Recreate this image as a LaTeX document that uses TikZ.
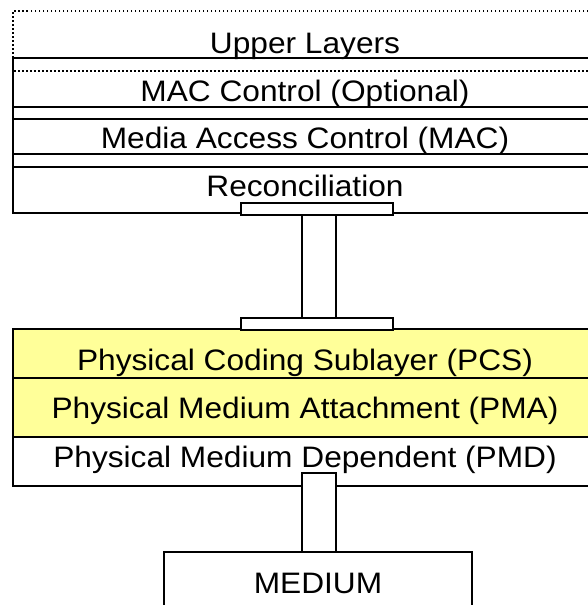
\documentclass[tikz,border=0pt]{standalone}
\usepackage{fontspec}
\setmainfont{Liberation Sans}[FakeStretch=1.07]
\definecolor{pcsyellow}{RGB}{255,255,153}
\begin{document}
\begin{tikzpicture}[x=1pt,y=-1pt,
  ln/.style={line width=2pt},
  dl/.style={line width=1.5pt, dash pattern=on 1.5pt off 2.5pt},
  lbl/.style={anchor=base, inner sep=0pt, font=\fontsize{29.6}{34}\selectfont},
  portbox/.style={draw, line width=2pt, fill=white, inner sep=0pt, anchor=north west},
]
\useasboundingbox (0,0) rectangle (588,605);
\clip (0,0) rectangle (588,605);
\fill[white] (0,0) rectangle (588,605);
% upper stack
\draw[dl] (600,11) -- (13,11) -- (13,71) -- (600,71);
\draw[ln] (600,58) -- (13,58) -- (13,213) -- (600,213);
\draw[ln] (13,107) -- (600,107);
\draw[ln] (13,119) -- (600,119);
\draw[ln] (13,154) -- (600,154);
\draw[ln] (13,167) -- (600,167);
\node[lbl] (ul) at (305,53) {Upper Layers};
\node[lbl] (macc) at (305,101) {MAC Control (Optional)};
\node[lbl] (mac) at (305,148) {Media Access Control (MAC)};
\node[lbl] (rec) at (305,196) {Reconciliation};
% lower stack
\fill[pcsyellow] (13,329) rectangle (600,437);
\draw[ln] (600,329) -- (13,329) -- (13,486) -- (600,486);
\draw[ln] (13,378) -- (600,378);
\draw[ln] (13,437) -- (600,437);
\node[lbl] (pcs) at (305,370) {Physical Coding Sublayer (PCS)};
\node[lbl] (pma) at (305,418) {Physical Medium Attachment (PMA)};
\node[lbl] (pmd) at (305,467) {Physical Medium Dependent (PMD)};
% interface between reconciliation and PCS
\node[portbox, minimum width=152pt, minimum height=12pt] (rtop) at (240,202) {};
\node[portbox, minimum width=34pt, minimum height=103pt] (mii) at (301,214) {};
\node[portbox, minimum width=152pt, minimum height=12pt] (rbot) at (240,317) {};
% medium
\node[portbox, minimum width=34pt, minimum height=79pt] (mdi) at (301,472) {};
\draw[ln, fill=white] (164,620) -- (164,552) -- (472,552) -- (472,620);
\node[lbl] (med) at (318,593) {MEDIUM};
\end{tikzpicture}
\end{document}
